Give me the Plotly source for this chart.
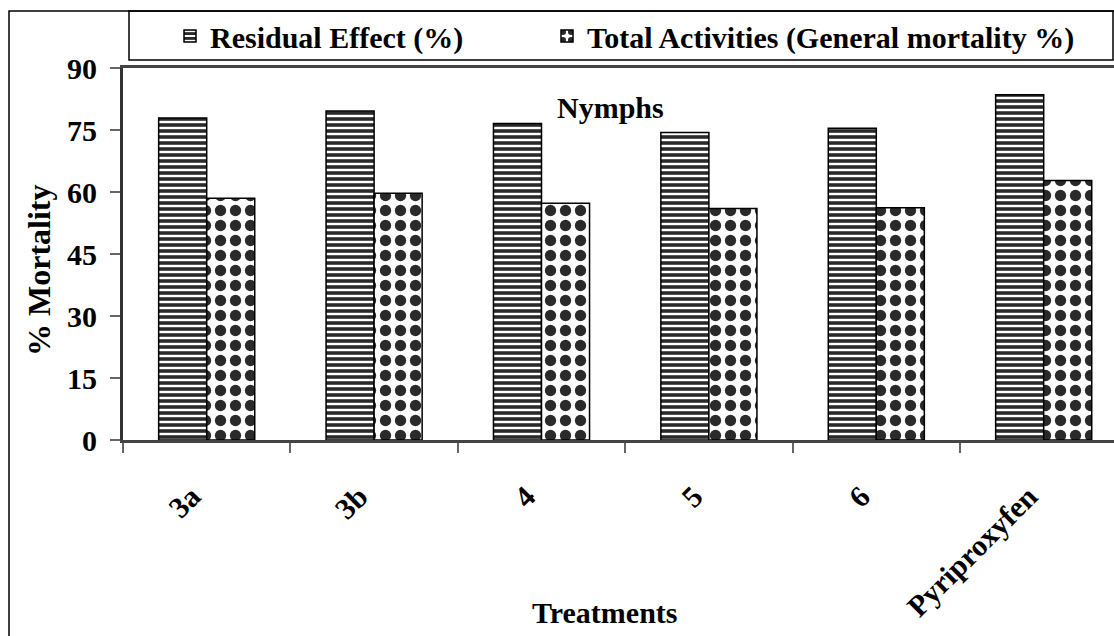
import plotly.graph_objects as go

treatments = ["3a", "3b", "4", "5", "6", "Pyriproxyfen"]
residual_effect = [77.9, 79.6, 76.6, 74.4, 75.4, 83.5]
total_activities = [58.5, 59.7, 57.3, 56.0, 56.2, 62.8]
y_ticks = [0, 15, 30, 45, 60, 75, 90]

W, H = 1114, 636
FONT = "Liberation Serif"

def px_x(p):
    return p / W

def px_y(p):
    return 1 - p / H

legend_font = dict(family=FONT, size=30, color="black", weight="bold")

fig = go.Figure()
fig.add_trace(go.Bar(
    x=treatments, y=residual_effect, name="Residual Effect (%)", legend="legend",
    marker=dict(color="white", line=dict(color="black", width=1.5),
                pattern=dict(shape="-", size=6, solidity=0.6, fgcolor="#2a2a2a",
                             fgopacity=1, bgcolor="white", fillmode="replace")),
))
fig.add_trace(go.Bar(
    x=treatments, y=total_activities, name="Total Activities (General mortality %)", legend="legend2",
    marker=dict(color="white", line=dict(color="black", width=1.5),
                pattern=dict(shape=".", size=15, solidity=0.45, fgcolor="#2a2a2a",
                             fgopacity=1, bgcolor="white", fillmode="replace")),
))

fig.update_layout(
    width=W, height=H,
    margin=dict(l=0, r=0, t=0, b=0, autoexpand=False),
    paper_bgcolor="white", plot_bgcolor="white",
    font=dict(family=FONT, size=30, color="black", weight="bold"),
    barmode="group", bargap=0.426, bargroupgap=0,
    showlegend=True,
    legend=dict(orientation="h", x=px_x(170), xanchor="left", y=px_y(36), yanchor="middle",
                bgcolor="rgba(0,0,0,0)", borderwidth=0, font=legend_font),
    legend2=dict(orientation="h", x=px_x(547), xanchor="left", y=px_y(36), yanchor="middle",
                 bgcolor="rgba(0,0,0,0)", borderwidth=0, font=legend_font),
    xaxis=dict(domain=[px_x(123), 1], range=[-0.5, -0.5 + (W - 123) / 167.4],
               showline=True, linecolor="#444444", linewidth=3, mirror=True,
               ticks="outside", ticklen=10, tickwidth=1.5, tickcolor="#666666",
               tickson="boundaries", tickangle=-45, ticklabelstandoff=24, ticklabelshift=-15,
               showgrid=False, zeroline=False, automargin=False,
               tickfont=dict(family=FONT, size=30, color="black", weight="bold")),
    yaxis=dict(domain=[px_y(440), px_y(68)], range=[0, 90], tickvals=y_ticks,
               showline=True, linecolor="#333333", linewidth=3,
               ticks="outside", ticklen=10, tickwidth=1.5, tickcolor="#666666",
               ticklabelstandoff=7,
               showgrid=False, zeroline=False, automargin=False,
               tickfont=dict(family=FONT, size=30, color="black", weight="bold")),
    shapes=[
        dict(type="rect", xref="paper", yref="paper", x0=px_x(9), x1=1.05, y0=-0.05, y1=px_y(11),
             line=dict(color="black", width=1.5), fillcolor="rgba(0,0,0,0)", layer="below"),
        dict(type="rect", xref="paper", yref="paper", x0=px_x(129), x1=px_x(1113), y0=px_y(60), y1=px_y(11),
             line=dict(color="black", width=1.5), fillcolor="rgba(0,0,0,0)", layer="below"),
    ],
    annotations=[
        dict(text="Nymphs", xref="paper", yref="paper", x=px_x(610), y=px_y(108),
             xanchor="center", yanchor="middle", showarrow=False,
             font=dict(family=FONT, size=30, color="black", weight="bold")),
        dict(text="Treatments", xref="paper", yref="paper", x=px_x(605), y=px_y(612),
             xanchor="center", yanchor="middle", showarrow=False,
             font=dict(family=FONT, size=30, color="black", weight="bold")),
        dict(text="% Mortality", xref="paper", yref="paper", x=px_x(39), y=px_y(270),
             xanchor="center", yanchor="middle", showarrow=False, textangle=-90,
             font=dict(family=FONT, size=32, color="black", weight="bold")),
    ],
)

fig.write_html("out.html")
